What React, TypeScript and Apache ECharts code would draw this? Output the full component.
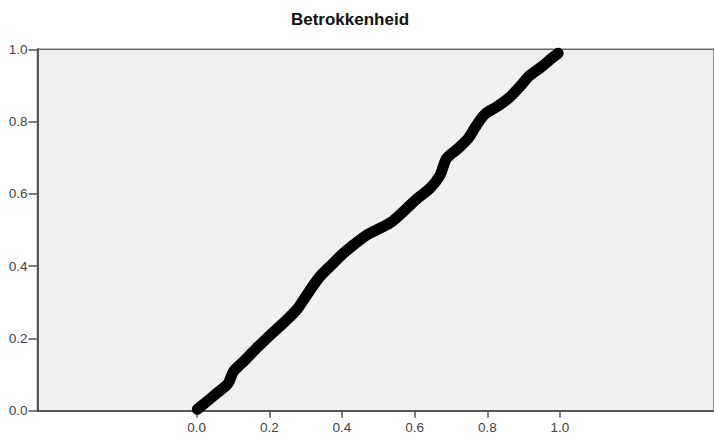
import React, { useEffect, useRef } from "react";
import * as echarts from "echarts";

const chartTitle = "Betrokkenheid";
const observedProb = [
  0.002, 0.055, 0.087, 0.101, 0.133, 0.165, 0.202, 0.238, 0.275, 0.303,
  0.339, 0.376, 0.399, 0.431, 0.468, 0.505, 0.537, 0.569, 0.606, 0.642,
  0.670, 0.688, 0.720, 0.748, 0.771, 0.794, 0.826, 0.858, 0.890, 0.913,
  0.950, 0.977, 0.995,
];
const expectedProb = [
  0.004, 0.048, 0.076, 0.108, 0.140, 0.173, 0.209, 0.242, 0.279, 0.320,
  0.371, 0.408, 0.431, 0.458, 0.486, 0.505, 0.523, 0.551, 0.586, 0.615,
  0.652, 0.698, 0.726, 0.754, 0.791, 0.821, 0.841, 0.864, 0.897, 0.924,
  0.952, 0.975, 0.989,
];
const xTicks = [0, 0.2, 0.4, 0.6, 0.8, 1.0];

export default function App() {
  const ref = useRef<HTMLDivElement>(null);
  useEffect(() => {
    if (!ref.current) return;
    const chart = echarts.init(ref.current, null, { renderer: "svg" });
    const font = "'Liberation Sans', Arial, sans-serif";
    chart.setOption({
      animation: false,
      backgroundColor: "#ffffff",
      title: {
        text: chartTitle,
        left: 345,
        textAlign: "center",
        top: 6,
        textStyle: { fontFamily: font, fontSize: 17, fontWeight: "bold", color: "#111" },
      },
      grid: {
        left: 37.5,
        top: 49.3,
        right: -3,
        bottom: 26.3,
        show: true,
        backgroundColor: "#f0f0f0",
        borderColor: "#6a6a6a",
        borderWidth: 1.5,
        containLabel: false,
      },
      xAxis: {
        type: "value",
        min: -0.438,
        max: 1.424,
        axisLine: { show: true, onZero: false, lineStyle: { color: "#555", width: 2 } },
        axisTick: { show: true, length: 7, customValues: xTicks, lineStyle: { color: "#555", width: 1.5 } },
        axisLabel: {
          customValues: xTicks,
          margin: 10,
          fontFamily: font,
          fontSize: 13.5,
          color: "#444",
          formatter: (v: number) => v.toFixed(1),
        },
        splitLine: { show: false },
      },
      yAxis: {
        type: "value",
        min: 0,
        max: 1,
        interval: 0.2,
        axisLine: { show: true, onZero: false, lineStyle: { color: "#555", width: 2 } },
        axisTick: { show: true, length: 9, lineStyle: { color: "#555", width: 1.5 } },
        axisLabel: {
          margin: 10,
          fontFamily: font,
          fontSize: 13.5,
          color: "#444",
          formatter: (v: number) => v.toFixed(1),
        },
        splitLine: { show: false },
      },
      series: [
        {
          type: "line",
          data: observedProb.map((x, i) => [x, expectedProb[i]]),
          showSymbol: false,
          smooth: 0.3,
          lineStyle: { color: "#000", width: 11, cap: "round", join: "round" },
          clip: false,
        },
      ],
    });
    return () => chart.dispose();
  }, []);
  return (
    <div
      ref={ref}
      style={{ position: "absolute", left: 0, top: 0, width: 714, height: 437, background: "#fff" }}
    />
  );
}
